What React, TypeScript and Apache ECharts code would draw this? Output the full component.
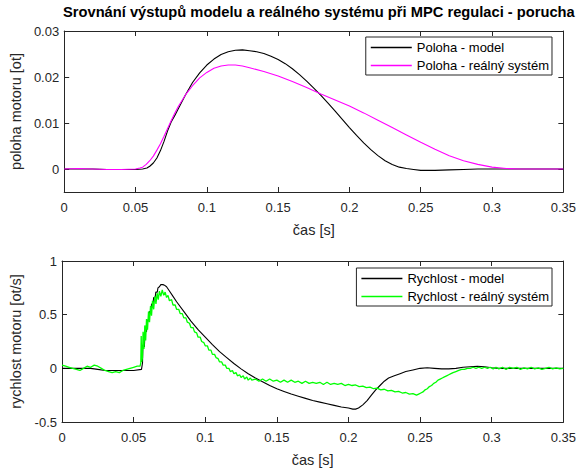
import React, { useEffect, useRef } from "react";
import * as echarts from "echarts";

// Position of the motor [ot] over time [s]
const modelPosition: [number, number][] = [
  [0, 0], [0.01, 0], [0.02, 0], [0.03, -0.0001], [0.04, -0.0001], [0.05, -0.0001], [0.055, 0],
  [0.058, 0.0002], [0.06, 0.0006], [0.0625, 0.0013], [0.065, 0.0024], [0.0675, 0.0040],
  [0.07, 0.0060], [0.0725, 0.0083], [0.075, 0.0102], [0.0775, 0.0116], [0.08, 0.0131],
  [0.085, 0.0161], [0.09, 0.0188], [0.095, 0.0209], [0.1, 0.0226], [0.105, 0.0239],
  [0.11, 0.0249], [0.115, 0.0255], [0.12, 0.0258], [0.125, 0.0259], [0.13, 0.0257],
  [0.135, 0.0255], [0.14, 0.0251], [0.145, 0.0245], [0.15, 0.0238], [0.155, 0.0229],
  [0.16, 0.0218], [0.165, 0.0205], [0.17, 0.0191], [0.175, 0.0176], [0.18, 0.0160],
  [0.185, 0.0143], [0.19, 0.0126], [0.195, 0.0108], [0.2, 0.0090], [0.205, 0.0073],
  [0.21, 0.0057], [0.215, 0.0042], [0.22, 0.0029], [0.225, 0.0018], [0.23, 0.0010],
  [0.235, 0.0004], [0.24, 0.0001], [0.245, -0.0001], [0.25, -0.0003], [0.26, -0.0003],
  [0.27, -0.0002], [0.28, -0.0001], [0.29, 0], [0.3, 0], [0.35, 0],
];

const realPosition: [number, number][] = [
  [0, 0], [0.01, 0.0001], [0.02, 0], [0.03, -0.0001], [0.04, -0.0001], [0.05, 0],
  [0.053, 0.0002], [0.055, 0.0004], [0.0575, 0.0010], [0.06, 0.0018], [0.0625, 0.0028],
  [0.065, 0.0041], [0.0675, 0.0055], [0.07, 0.0071], [0.0725, 0.0088], [0.075, 0.0105],
  [0.0775, 0.0121], [0.08, 0.0136], [0.085, 0.0161], [0.09, 0.0181], [0.095, 0.0198],
  [0.1, 0.0210], [0.105, 0.0219], [0.11, 0.0224], [0.115, 0.0226], [0.12, 0.0226],
  [0.125, 0.0224], [0.13, 0.0220], [0.14, 0.0212], [0.15, 0.0202], [0.16, 0.0190],
  [0.17, 0.0177], [0.18, 0.0163], [0.19, 0.0150], [0.2, 0.0137], [0.21, 0.0122],
  [0.22, 0.0106], [0.23, 0.0090], [0.24, 0.0074], [0.25, 0.0058], [0.26, 0.0043],
  [0.27, 0.0029], [0.28, 0.0018], [0.29, 0.0010], [0.3, 0.0004], [0.31, 0.0001],
  [0.32, 0], [0.35, 0],
];

// Speed of the motor [ot/s] over time [s]
const modelVelocity: [number, number][] = [
  [0, 0], [0.02, 0], [0.025, -0.01], [0.03, -0.02], [0.05, -0.02], [0.0555, -0.01],
  [0.0562, 0.05], [0.0565, 0.22], [0.0575, 0.2], [0.058, 0.35], [0.059, 0.34],
  [0.0595, 0.45], [0.0605, 0.44], [0.061, 0.53], [0.062, 0.52], [0.0625, 0.6],
  [0.0635, 0.6], [0.064, 0.66], [0.065, 0.66], [0.0655, 0.71], [0.0665, 0.71],
  [0.067, 0.75], [0.068, 0.76], [0.069, 0.78], [0.0705, 0.78], [0.0715, 0.775],
  [0.073, 0.76], [0.075, 0.72], [0.0775, 0.67], [0.08, 0.62], [0.085, 0.53],
  [0.09, 0.44], [0.095, 0.36], [0.1, 0.29], [0.105, 0.22], [0.11, 0.155], [0.115, 0.1],
  [0.12, 0.045], [0.125, -0.005], [0.13, -0.05], [0.135, -0.09], [0.14, -0.125],
  [0.145, -0.16], [0.15, -0.19], [0.155, -0.215], [0.16, -0.24], [0.165, -0.26],
  [0.17, -0.28], [0.175, -0.3], [0.18, -0.315], [0.185, -0.33], [0.19, -0.345],
  [0.195, -0.36], [0.2, -0.37], [0.203, -0.38], [0.205, -0.38], [0.207, -0.37],
  [0.21, -0.34], [0.213, -0.3], [0.216, -0.25], [0.219, -0.2], [0.222, -0.16],
  [0.225, -0.12], [0.228, -0.09], [0.232, -0.07], [0.236, -0.05], [0.24, -0.03],
  [0.245, -0.015], [0.25, 0], [0.255, 0.005], [0.26, 0], [0.265, -0.005], [0.27, -0.005],
  [0.275, 0], [0.28, 0.01], [0.285, 0.015], [0.29, 0.02], [0.295, 0.015], [0.3, 0.005],
  [0.305, 0], [0.35, 0],
];

const realVelocity: [number, number][] = [
  [0, 0.03], [0.0025, 0.02], [0.005, 0.01], [0.0075, 0], [0.01, -0.01], [0.0125, -0.02],
  [0.015, 0], [0.0175, 0.02], [0.02, 0.01], [0.0225, 0.03], [0.025, 0.02], [0.0275, 0],
  [0.03, -0.02], [0.0325, -0.03], [0.035, -0.04], [0.0375, -0.03], [0.04, -0.04],
  [0.0425, -0.02], [0.045, -0.01], [0.0475, 0], [0.05, 0.01], [0.0525, 0.02], [0.0545, 0.02],
  [0.055, 0.05], [0.0553, 0.3], [0.0556, 0.06], [0.0562, 0.1], [0.0566, 0.34], [0.0572, 0.18],
  [0.0578, 0.4], [0.0584, 0.26], [0.059, 0.46], [0.0597, 0.36], [0.0604, 0.53], [0.0611, 0.43],
  [0.0618, 0.58], [0.0625, 0.49], [0.0632, 0.63], [0.064, 0.55], [0.0648, 0.67], [0.0656, 0.6],
  [0.0664, 0.7], [0.0672, 0.64], [0.068, 0.72], [0.069, 0.67], [0.07, 0.73], [0.071, 0.68],
  [0.072, 0.71], [0.073, 0.66], [0.074, 0.68], [0.075, 0.63], [0.0765, 0.64], [0.0775, 0.59],
  [0.079, 0.59], [0.08, 0.55], [0.0815, 0.55], [0.0825, 0.51], [0.084, 0.51], [0.085, 0.47],
  [0.0865, 0.47], [0.0875, 0.43], [0.089, 0.42], [0.09, 0.38], [0.0915, 0.38], [0.0925, 0.34],
  [0.094, 0.33], [0.095, 0.29], [0.0965, 0.29], [0.0975, 0.25], [0.099, 0.24], [0.1, 0.21],
  [0.1015, 0.21], [0.1025, 0.17], [0.104, 0.17], [0.105, 0.13], [0.1065, 0.13], [0.1075, 0.1],
  [0.109, 0.09], [0.11, 0.06], [0.1115, 0.06], [0.1125, 0.03], [0.114, 0.03], [0.115, 0],
  [0.1165, 0], [0.1175, -0.03], [0.119, -0.02], [0.12, -0.05], [0.1215, -0.04], [0.1225, -0.07],
  [0.124, -0.06], [0.125, -0.085], [0.1265, -0.07], [0.1275, -0.1], [0.129, -0.08], [0.13, -0.11],
  [0.1315, -0.09], [0.1325, -0.11], [0.135, -0.1], [0.1375, -0.12], [0.14, -0.1], [0.1425, -0.12],
  [0.145, -0.1], [0.1475, -0.12], [0.15, -0.11], [0.1525, -0.13], [0.155, -0.11], [0.1575, -0.13],
  [0.16, -0.11], [0.1625, -0.13], [0.165, -0.12], [0.1675, -0.14], [0.17, -0.12], [0.1725, -0.14],
  [0.175, -0.13], [0.1775, -0.14], [0.18, -0.13], [0.1825, -0.15], [0.185, -0.13], [0.1875, -0.15],
  [0.19, -0.14], [0.1925, -0.15], [0.195, -0.14], [0.1975, -0.16], [0.2, -0.15], [0.2025, -0.16],
  [0.205, -0.155], [0.2075, -0.17], [0.21, -0.165], [0.2125, -0.18], [0.215, -0.175], [0.2175, -0.19],
  [0.22, -0.185], [0.2225, -0.2], [0.225, -0.195], [0.2275, -0.21], [0.23, -0.205], [0.2325, -0.22],
  [0.235, -0.215], [0.2375, -0.23], [0.24, -0.225], [0.2425, -0.24], [0.245, -0.235], [0.2475, -0.25],
  [0.249, -0.24], [0.2505, -0.23], [0.252, -0.22], [0.2535, -0.2], [0.255, -0.19], [0.2565, -0.17],
  [0.258, -0.16], [0.2595, -0.14], [0.261, -0.13], [0.2625, -0.11], [0.264, -0.1], [0.2655, -0.09],
  [0.267, -0.08], [0.2685, -0.07], [0.27, -0.06], [0.2715, -0.05], [0.273, -0.04], [0.275, -0.03],
  [0.277, -0.02], [0.279, -0.01], [0.281, -0.01], [0.283, 0], [0.285, 0], [0.287, 0.01],
  [0.289, 0], [0.291, 0.01], [0.293, 0], [0.295, 0.01], [0.297, 0], [0.299, 0.01], [0.301, -0.005],
  [0.303, 0.01], [0.305, -0.005], [0.3075, 0.01], [0.31, -0.01], [0.3125, 0.01], [0.315, 0],
  [0.3175, 0.01], [0.32, -0.01], [0.3225, 0.005], [0.325, -0.005], [0.3275, 0.01], [0.33, -0.005],
  [0.3325, 0.005], [0.335, -0.01], [0.3375, 0], [0.34, 0.01], [0.3425, -0.005], [0.345, 0.005],
  [0.3475, -0.005], [0.35, 0],
];

const timeTicks = [0, 0.05, 0.1, 0.15, 0.2, 0.25, 0.3, 0.35];
const positionTicks = [0, 0.01, 0.02, 0.03];
const velocityTicks = [-0.5, 0, 0.5, 1];

const TITLE = "Srovnání výstupů modelu a reálného systému při MPC regulaci - porucha";
const FONT = "Liberation Sans, Arial, Helvetica, sans-serif";
const AXIS_COLOR = "#262626";

const fmt = (v: number) => String(+v.toFixed(3));

function xAxes(gridIndex: number) {
  const common = {
    type: "value",
    gridIndex,
    min: 0,
    max: 0.35,
    splitLine: { show: false },
    axisLine: { show: true, onZero: false, lineStyle: { color: AXIS_COLOR, width: 1 } },
    axisTick: { show: true, inside: true, length: 5, customValues: timeTicks, lineStyle: { color: AXIS_COLOR } },
  };
  return [
    {
      ...common,
      position: "bottom",
      name: "čas [s]",
      nameLocation: "middle",
      nameGap: 30,
      nameTextStyle: { color: AXIS_COLOR, fontSize: 14.5, fontFamily: FONT },
      axisLabel: {
        show: true, margin: 9, color: AXIS_COLOR, fontSize: 13, fontFamily: FONT,
        customValues: timeTicks, formatter: fmt,
      },
    },
    { ...common, position: "top", axisLabel: { show: false } },
  ];
}

function yAxes(gridIndex: number, min: number, max: number, ticks: number[], name: string) {
  const common = {
    type: "value",
    gridIndex,
    min,
    max,
    splitLine: { show: false },
    axisLine: { show: true, onZero: false, lineStyle: { color: AXIS_COLOR, width: 1 } },
    axisTick: { show: true, inside: true, length: 5, customValues: ticks, lineStyle: { color: AXIS_COLOR } },
  };
  return [
    {
      ...common,
      position: "left",
      name,
      nameLocation: "middle",
      nameGap: 35,
      nameTextStyle: { color: AXIS_COLOR, fontSize: 14.5, fontFamily: FONT },
      axisLabel: {
        show: true, margin: 5, color: AXIS_COLOR, fontSize: 13, fontFamily: FONT,
        customValues: ticks, formatter: fmt,
      },
    },
    { ...common, position: "right", axisLabel: { show: false } },
  ];
}

function lineSeries(name: string, data: [number, number][], color: string, axis: number, width = 1.1) {
  return {
    name,
    type: "line",
    data,
    xAxisIndex: axis * 2,
    yAxisIndex: axis * 2,
    showSymbol: false,
    symbol: "none",
    lineStyle: { color, width },
    itemStyle: { color },
    emphasis: { disabled: true },
  };
}

const legendCommon = {
  orient: "vertical",
  backgroundColor: "#ffffff",
  borderColor: AXIS_COLOR,
  borderWidth: 1,
  borderRadius: 0,
  itemWidth: 41,
  itemHeight: 1.5,
  itemGap: 5,
  icon: "rect",
  textStyle: { color: "#000", fontSize: 13, fontFamily: FONT },
  selectedMode: false,
};

export default function App() {
  const ref = useRef<HTMLDivElement>(null);

  useEffect(() => {
    if (!ref.current) return;
    const chart = echarts.init(ref.current, null, { renderer: "svg" });
    chart.setOption({
      animation: false,
      backgroundColor: "#ffffff",
      title: {
        text: TITLE,
        left: 63,
        top: 4,
        padding: 0,
        textStyle: { color: "#000", fontSize: 14.7, fontWeight: "bold", fontFamily: FONT },
      },
      grid: [
        { left: 62, right: 13, top: 31, height: 161 },
        { left: 62, right: 13, top: 261, height: 161 },
      ],
      xAxis: [...xAxes(0), ...xAxes(1)],
      yAxis: [
        ...yAxes(0, -0.005, 0.03, positionTicks, "poloha motoru [ot]"),
        ...yAxes(1, -0.5, 1, velocityTicks, "rychlost motoru [ot/s]"),
      ],
      legend: [
        {
          ...legendCommon,
          data: ["Poloha - model", "Poloha - reálný systém"],
          right: 27,
          top: 37,
          padding: [4, 3, 3, 5],
        },
        {
          ...legendCommon,
          data: ["Rychlost - model", "Rychlost - reálný systém"],
          right: 27,
          top: 268,
          padding: [4, 3, 3, 5],
        },
      ],
      series: [
        lineSeries("Poloha - model", modelPosition, "#000000", 0),
        lineSeries("Poloha - reálný systém", realPosition, "#ff00ff", 0),
        lineSeries("Rychlost - model", modelVelocity, "#000000", 1),
        lineSeries("Rychlost - reálný systém", realVelocity, "#00ff00", 1, 1.3),
      ],
    });
    return () => chart.dispose();
  }, []);

  return (
    <div
      ref={ref}
      style={{ position: "fixed", left: 0, top: 0, width: 579, height: 468, background: "#fff" }}
    />
  );
}
